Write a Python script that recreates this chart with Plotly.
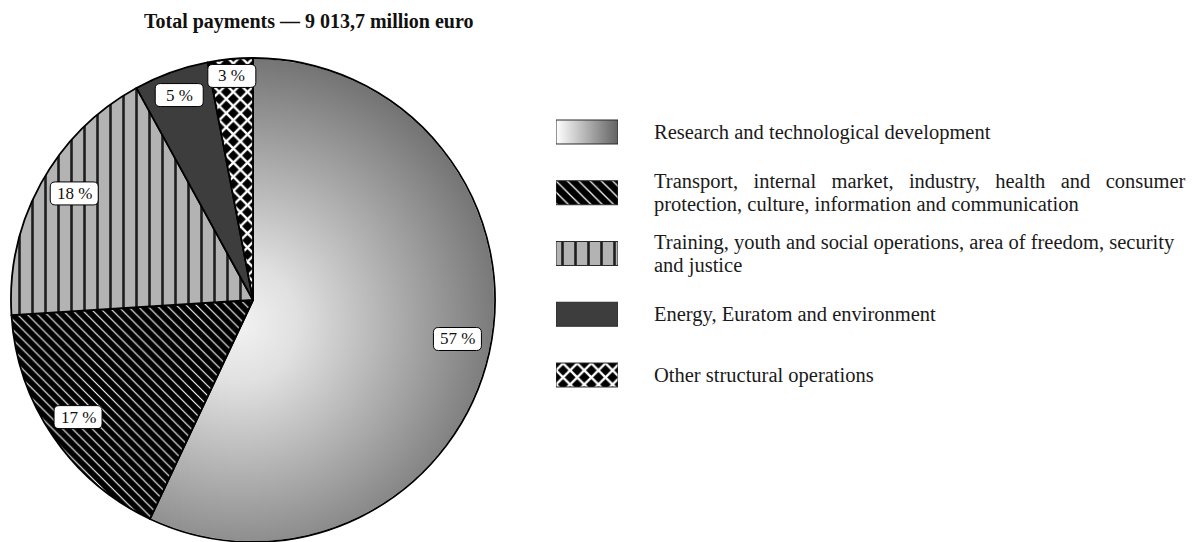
import base64
import math
import plotly.graph_objects as go

# ---- data -------------------------------------------------------------
categories = [
    "Research and technological development",
    "Transport, internal market, industry, health and consumer protection, culture, information and communication",
    "Training, youth and social operations, area of freedom, security and justice",
    "Energy, Euratom and environment",
    "Other structural operations",
]
shares = [57, 17, 18, 5, 3]  # percent of total payments
legend_lines = [
    ["Research and technological development"],
    ["Transport, internal market, industry, health and consumer",
     "protection, culture, information and communication"],
    ["Training, youth and social operations, area of freedom, security",
     "and justice"],
    ["Energy, Euratom and environment"],
    ["Other structural operations"],
]
title_text = "Total payments \u2014 9\u00a0013,7 million euro"

# ---- page geometry ----------------------------------------------------
W, H = 1192, 542
ML, MT, MR, MB = 11, 58, 0, 0
PW, PH = W - ML - MR, H - MT - MB
R = PH / 2.0                      # pie radius in px (domain is square)
CX, CY = ML + R, MT + R           # pie centre in px
pie_dw = PH / PW                  # pie domain width in paper units


def px_x(px):
    return (px - ML) / PW


def px_y(py):
    return 1 - (py - MT) / PH


# ---- styles -----------------------------------------------------------
SERIF = "Liberation Serif, Times New Roman, serif"
fill = ["rgba(0,0,0,0)", "#000000", "#b3b3b3", "#3d3d3d", "#000000"]
pat_shape = ["", "\\", "|", "", "x"]
pat_fg = ["#000000", "#ffffff", "#1e1e1e", "#3d3d3d", "#ffffff"]
pat_bg = ["rgba(0,0,0,0)", "#000000", "#b3b3b3", "#3d3d3d", "#000000"]
pie_size = [8, 7, 13, 8, 10]
leg_size = [8, 8, 13, 8, 10]
pat_solid = [0.2, 0.16, 0.2, 0.2, 0.42]

fig = go.Figure()

fig.add_trace(go.Pie(
    values=shares,
    labels=categories,
    sort=False,
    direction="clockwise",
    rotation=0,
    textinfo="none",
    hoverinfo="label+percent",
    showlegend=False,
    domain=dict(x=[0, pie_dw], y=[0, 1]),
    marker=dict(
        colors=fill,
        pattern=dict(shape=pat_shape, fgcolor=pat_fg, bgcolor=pat_bg,
                     size=pie_size, solidity=pat_solid, fillmode="replace"),
        line=dict(color="#000000", width=1.8),
    ),
))

# legend swatches drawn as bars on their own small axis, one trace per row
rows = list(range(len(categories)))
BAR_W = 0.395
for i in rows:
    fig.add_trace(go.Bar(
        x=[1], y=[i], base=0, orientation="h", width=BAR_W,
        xaxis="x2", yaxis="y2", hoverinfo="skip", showlegend=False,
        marker=dict(
            color=fill[i],
            pattern=dict(shape=pat_shape[i], fgcolor=pat_fg[i], bgcolor=pat_bg[i],
                         size=leg_size[i], solidity=pat_solid[i], fillmode="replace"),
            line=dict(color="#2a2a2a", width=1),
        ),
    ))

# gradient shading for the research slice (shows through its transparent fill)
disc_svg = (
    '<svg xmlns="http://www.w3.org/2000/svg" viewBox="0 0 100 100" '
    'preserveAspectRatio="none">'
    '<defs><radialGradient id="g" cx="0.47" cy="0.55" r="0.62">'
    '<stop offset="0" stop-color="#f2f2f2"/>'
    '<stop offset="0.2" stop-color="#e0e0e0"/>'
    '<stop offset="1" stop-color="#646464"/>'
    '</radialGradient></defs>'
    '<circle cx="50" cy="50" r="49.8" fill="url(#g)"/></svg>'
)
swatch_svg = (
    '<svg xmlns="http://www.w3.org/2000/svg" viewBox="0 0 100 100" '
    'preserveAspectRatio="none">'
    '<defs><linearGradient id="h" x1="0" y1="0" x2="1" y2="0">'
    '<stop offset="0" stop-color="#ffffff"/>'
    '<stop offset="1" stop-color="#626262"/>'
    '</linearGradient></defs>'
    '<rect x="0" y="0" width="100" height="100" fill="url(#h)"/></svg>'
)


def svg_uri(s):
    return "data:image/svg+xml;base64," + base64.b64encode(s.encode()).decode()


images = [
    dict(source=svg_uri(disc_svg), xref="paper", yref="paper",
         x=0, y=1, sizex=pie_dw, sizey=1, xanchor="left", yanchor="top",
         sizing="stretch", layer="below"),
    dict(source=svg_uri(swatch_svg), xref="x2", yref="y2",
         x=0, y=rows[0] - BAR_W / 2, sizex=1, sizey=BAR_W,
         xanchor="left", yanchor="top", sizing="stretch", layer="below"),
]

# ---- slice value labels in rounded boxes ------------------------------
label_r = [0.86, 0.87, 0.86, 0.90, 0.93]
label_nudge = [-1.8, 0.4, 2, 0, 0]  # degrees
BOX_W, BOX_H, RAD = 48, 23, 5

shapes = []
annotations = []
start = 0.0
total = float(sum(shares))
for v, fr, nd in zip(shares, label_r, label_nudge):
    mid = math.radians((start + v / 2.0) / total * 360.0 + nd)
    start += v
    lx = CX + fr * R * math.sin(mid)
    ly = CY - fr * R * math.cos(mid)
    x0, x1 = lx - BOX_W / 2, lx + BOX_W / 2
    y0, y1 = ly - BOX_H / 2, ly + BOX_H / 2
    pts = [
        ("M", x0 + RAD, y0), ("L", x1 - RAD, y0), ("Q", x1, y0, x1, y0 + RAD),
        ("L", x1, y1 - RAD), ("Q", x1, y1, x1 - RAD, y1), ("L", x0 + RAD, y1),
        ("Q", x0, y1, x0, y1 - RAD), ("L", x0, y0 + RAD), ("Q", x0, y0, x0 + RAD, y0),
    ]
    path = ""
    for p in pts:
        if p[0] == "Q":
            path += "Q%.5f,%.5f %.5f,%.5f " % (px_x(p[1]), px_y(p[2]), px_x(p[3]), px_y(p[4]))
        else:
            path += "%s%.5f,%.5f " % (p[0], px_x(p[1]), px_y(p[2]))
    path += "Z"
    shapes.append(dict(type="path", xref="paper", yref="paper", path=path,
                       fillcolor="#ffffff", line=dict(color="#000000", width=1),
                       layer="above"))
    annotations.append(dict(x=px_x(lx), y=px_y(ly), xref="paper", yref="paper",
                            text="%d\u00a0%%" % v, showarrow=False,
                            font=dict(family=SERIF, size=17, color="#111111"),
                            xanchor="center", yanchor="middle"))

# ---- legend text ------------------------------------------------------
LINE_GAP = 23
gap_extra = {(1, 0): 2}
for i, lines in enumerate(legend_lines):
    n = len(lines)
    for j, line in enumerate(lines):
        extra = gap_extra.get((i, j), 0)
        if extra:
            line = line.replace(" ", " " + "\u00a0" * extra)
        annotations.append(dict(
            x=px_x(652), y=rows[i], xref="paper", yref="y2",
            yshift=-(j - (n - 1) / 2.0) * LINE_GAP,
            text=line, showarrow=False, xanchor="left", yanchor="middle",
            font=dict(family=SERIF, size=20.5, color="#1a1a1a"),
        ))

# title
annotations.append(dict(
    x=px_x(142), y=px_y(21), xref="paper", yref="paper",
    text="<b>%s</b>" % title_text, showarrow=False,
    xanchor="left", yanchor="middle",
    font=dict(family=SERIF, size=20, color="#111111"),
))

row_px = 60.75
leg_top = 132 - row_px / 2
leg_bot = 375 + row_px / 2

fig.update_layout(
    width=W, height=H, autosize=False,
    margin=dict(l=ML, r=MR, t=MT, b=MB),
    paper_bgcolor="#ffffff", plot_bgcolor="rgba(0,0,0,0)",
    barmode="overlay",
    xaxis2=dict(domain=[px_x(556), px_x(618)], range=[0, 1], anchor="y2",
                visible=False, fixedrange=True),
    yaxis2=dict(domain=[px_y(leg_bot), px_y(leg_top)], range=[4.5, -0.5],
                anchor="x2", visible=False, fixedrange=True),
    images=images,
    shapes=shapes,
    annotations=annotations,
    showlegend=False,
)

fig.write_html("out.html")
